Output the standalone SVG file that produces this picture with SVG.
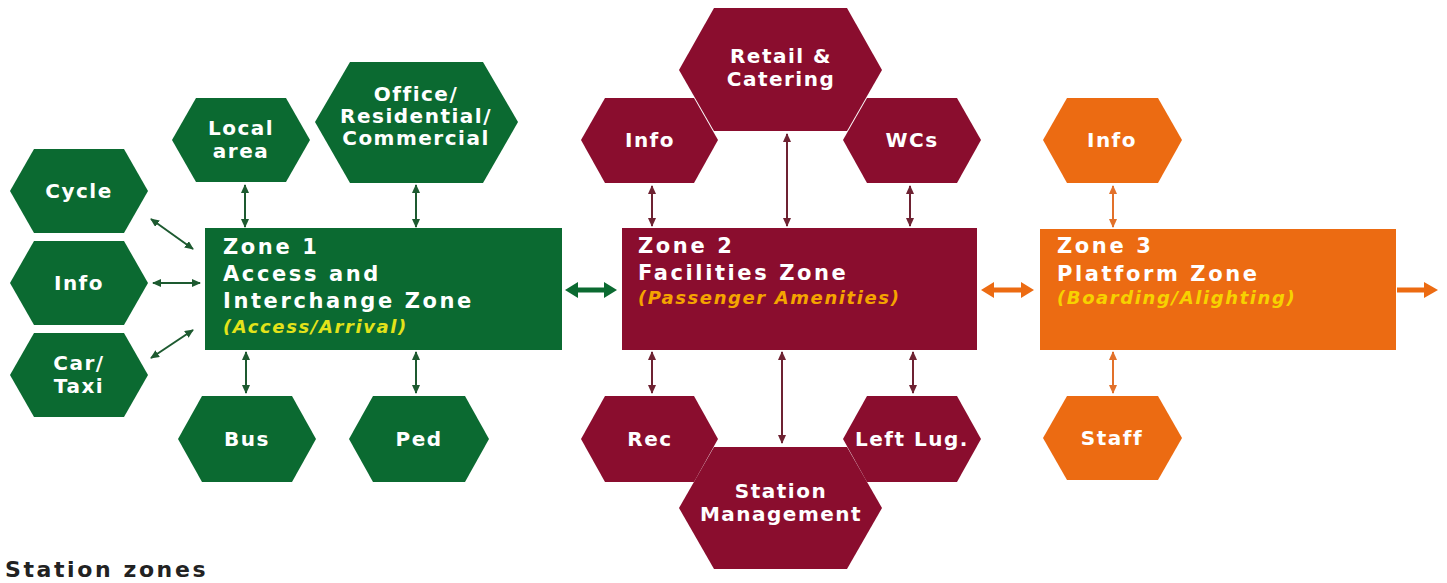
<svg xmlns="http://www.w3.org/2000/svg" width="1447" height="583" viewBox="0 0 1447 583">
<defs>
<style>
.g{fill:#0b6a31}.m{fill:#8a0d2e}.o{fill:#ec6b12}
.hl{font-family:"DejaVu Sans",sans-serif;font-weight:bold;font-size:20px;fill:#ffffff;text-anchor:middle;letter-spacing:1.5px}
.zt{font-family:"DejaVu Sans",sans-serif;font-weight:bold;font-size:21px;fill:#ffffff;letter-spacing:2.6px}
.sub{font-family:"DejaVu Sans",sans-serif;font-weight:bold;font-style:italic;font-size:18px;letter-spacing:1.6px}
.cg{stroke:#1d5a30;stroke-width:2;fill:none}
.cm{stroke:#6e2232;stroke-width:2;fill:none}
.co{stroke:#e2712a;stroke-width:2;fill:none}
.title{font-family:"DejaVu Sans",sans-serif;font-weight:bold;font-size:22px;fill:#222222;letter-spacing:2.6px}
</style>
<marker id="ag" viewBox="0 0 9 8" markerWidth="9" markerHeight="8" refX="8" refY="4" orient="auto-start-reverse" markerUnits="userSpaceOnUse"><path d="M0,0 L9,4 L0,8 Z" fill="#1d5a30"/></marker>
<marker id="am" viewBox="0 0 9 8" markerWidth="9" markerHeight="8" refX="8" refY="4" orient="auto-start-reverse" markerUnits="userSpaceOnUse"><path d="M0,0 L9,4 L0,8 Z" fill="#6e2232"/></marker>
<marker id="ao" viewBox="0 0 9 8" markerWidth="9" markerHeight="8" refX="8" refY="4" orient="auto-start-reverse" markerUnits="userSpaceOnUse"><path d="M0,0 L9,4 L0,8 Z" fill="#e2712a"/></marker>
</defs>
<rect width="1447" height="583" fill="#ffffff"/>

<g id="connectors">
<line class="cg" x1="151" y1="219" x2="193" y2="249" marker-start="url(#ag)" marker-end="url(#ag)"/>
<line class="cg" x1="153" y1="283" x2="200" y2="283" marker-start="url(#ag)" marker-end="url(#ag)"/>
<line class="cg" x1="151" y1="358" x2="193" y2="330" marker-start="url(#ag)" marker-end="url(#ag)"/>
<line class="cg" x1="245" y1="185" x2="245" y2="227" marker-start="url(#ag)" marker-end="url(#ag)"/>
<line class="cg" x1="416" y1="185" x2="416" y2="227" marker-start="url(#ag)" marker-end="url(#ag)"/>
<line class="cg" x1="246" y1="352" x2="246" y2="393" marker-start="url(#ag)" marker-end="url(#ag)"/>
<line class="cg" x1="416" y1="352" x2="416" y2="393" marker-start="url(#ag)" marker-end="url(#ag)"/>
<line class="cm" x1="652" y1="186" x2="652" y2="226" marker-start="url(#am)" marker-end="url(#am)"/>
<line class="cm" x1="787" y1="134" x2="787" y2="226" marker-start="url(#am)" marker-end="url(#am)"/>
<line class="cm" x1="910" y1="186" x2="910" y2="226" marker-start="url(#am)" marker-end="url(#am)"/>
<line class="cm" x1="652" y1="352" x2="652" y2="393" marker-start="url(#am)" marker-end="url(#am)"/>
<line class="cm" x1="782" y1="352" x2="782" y2="443" marker-start="url(#am)" marker-end="url(#am)"/>
<line class="cm" x1="913" y1="352" x2="913" y2="393" marker-start="url(#am)" marker-end="url(#am)"/>
<line class="co" x1="1113" y1="186" x2="1113" y2="227" marker-start="url(#ao)" marker-end="url(#ao)"/>
<line class="co" x1="1113" y1="352" x2="1113" y2="393" marker-start="url(#ao)" marker-end="url(#ao)"/>
<path class="g" d="M565,290 L578,282 L578,287.5 L604,287.5 L604,282 L617,290 L604,298 L604,292.5 L578,292.5 L578,298 Z"/>
<path class="o" d="M981,290 L994,282 L994,287.5 L1021,287.5 L1021,282 L1034,290 L1021,298 L1021,292.5 L994,292.5 L994,298 Z"/>
<path class="o" d="M1397,287.5 L1424,287.5 L1424,282 L1438,290 L1424,298 L1424,292.5 L1397,292.5 Z"/>
</g>

<g id="zone1">
<rect class="g" x="205" y="228" width="357" height="122"/>
<text class="zt" x="223" y="254">Zone 1</text>
<text class="zt" x="223" y="281">Access and</text>
<text class="zt" x="223" y="308">Interchange Zone</text>
<text class="sub" x="223" y="333" fill="#e3e31a">(Access/Arrival)</text>
</g>
<g id="zone2">
<rect class="m" x="622" y="228" width="355" height="122"/>
<text class="zt" x="638" y="253">Zone 2</text>
<text class="zt" x="638" y="280">Facilities Zone</text>
<text class="sub" x="638" y="304" fill="#f5a400">(Passenger Amenities)</text>
</g>
<g id="zone3">
<rect class="o" x="1040" y="229" width="356" height="121"/>
<text class="zt" x="1057" y="253">Zone 3</text>
<text class="zt" x="1057" y="281">Platform Zone</text>
<text class="sub" x="1057" y="304" fill="#f7d200">(Boarding/Alighting)</text>
</g>

<g id="cycle"><polygon class="g" points="10,191 34,149 124,149 148,191 124,233 34,233"/><text class="hl" x="79" y="198">Cycle</text></g>
<g id="info1"><polygon class="g" points="10,283 34,241 124,241 148,283 124,325 34,325"/><text class="hl" x="79" y="290">Info</text></g>
<g id="cartaxi"><polygon class="g" points="10,375 34,333 124,333 148,375 124,417 34,417"/><text class="hl" x="79" y="370">Car/</text><text class="hl" x="79" y="393">Taxi</text></g>
<g id="localarea"><polygon class="g" points="172,140 196,98 286,98 310,140 286,182 196,182"/><text class="hl" x="241" y="135">Local</text><text class="hl" x="241" y="158">area</text></g>
<g id="office"><polygon class="g" points="315,122 350,62 483,62 518,122 483,183 350,183"/><text class="hl" x="416" y="101">Office/</text><text class="hl" x="416" y="123">Residential/</text><text class="hl" x="416" y="145">Commercial</text></g>
<g id="bus"><polygon class="g" points="178,439 202,396 292,396 316,439 292,482 202,482"/><text class="hl" x="247" y="446">Bus</text></g>
<g id="ped"><polygon class="g" points="349,439 373,396 465,396 489,439 465,482 373,482"/><text class="hl" x="419" y="446">Ped</text></g>

<g id="retail"><polygon class="m" points="679,70 714,8 847,8 882,70 847,131 714,131"/><text class="hl" x="781" y="63">Retail &amp;</text><text class="hl" x="781" y="86">Catering</text></g>
<g id="info2"><polygon class="m" points="581,140 605,98 694,98 718,140 694,183 605,183"/><text class="hl" x="650" y="147">Info</text></g>
<g id="wcs"><polygon class="m" points="843,140 867,98 957,98 981,140 957,183 867,183"/><text class="hl" x="912" y="147">WCs</text></g>
<g id="rec"><polygon class="m" points="581,439 605,396 694,396 718,439 694,482 605,482"/><text class="hl" x="650" y="446">Rec</text></g>
<g id="leftlug"><polygon class="m" points="843,439 867,396 957,396 981,439 957,482 867,482"/><text class="hl" x="912" y="446">Left Lug.</text></g>
<g id="stationmgmt"><polygon class="m" points="679,508 714,447 847,447 882,508 847,569 714,569"/><text class="hl" x="781" y="498">Station</text><text class="hl" x="781" y="521">Management</text></g>

<g id="info3"><polygon class="o" points="1043,140 1067,98 1158,98 1182,140 1158,183 1067,183"/><text class="hl" x="1112" y="147">Info</text></g>
<g id="staff"><polygon class="o" points="1043,438 1067,396 1158,396 1182,438 1158,480 1067,480"/><text class="hl" x="1112" y="445">Staff</text></g>

<text class="title" x="5" y="577">Station zones</text>
</svg>
